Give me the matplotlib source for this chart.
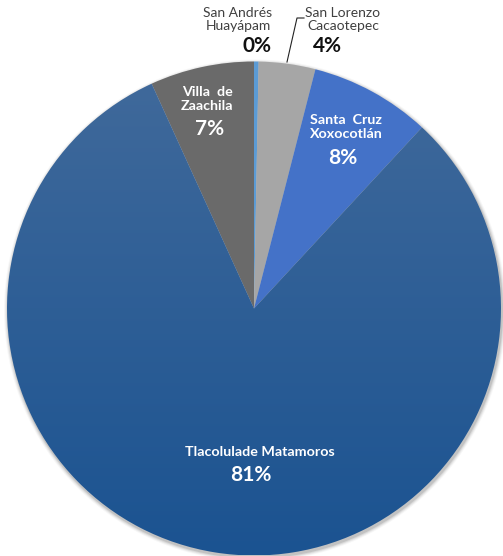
import numpy as np
import matplotlib.pyplot as plt
from matplotlib.colors import LinearSegmentedColormap

# municipios, porcentaje de participación
municipios = ['San Andrés\nHuayápam', 'San Lorenzo\nCacaotepec', 'Santa  Cruz\nXoxocotlán',
              'Tlacolulade Matamoros', 'Villa  de\nZaachila']
valores = [0.3, 3.7, 7.9, 81.3, 6.8]
colores = ['#5B9BD5', '#A6A6A6', '#4472C8', '#2A5F97', '#6A6A6A']

W, H = 503, 556
fig = plt.figure(figsize=(W / 100, H / 100), dpi=100)
ax = fig.add_axes([0, 0, 1, 1])

cx, cy, R = 254, 247.5, 247

# sombra suave alrededor del pastel
for k, a in zip([4, 3, 2, 1], [0.03, 0.05, 0.07, 0.10]):
    ax.add_patch(plt.Circle((cx + 1, cy - 2), R + k, color='black', alpha=a, lw=0, zorder=0))

wedges, _ = ax.pie(valores, colors=colores, startangle=90, counterclock=False,
                   center=(cx, cy), radius=R, frame=True,
                   wedgeprops=dict(linewidth=0))
ax.set_xlim(0, W)
ax.set_ylim(0, H)
ax.set_aspect('equal')
ax.axis('off')

# degradado vertical en la porción de Tlacolula
cmap = LinearSegmentedColormap.from_list('azul', ['#1B5391', '#416A9B'])
grad = np.linspace(0, 1, 256).reshape(-1, 1)
img = ax.imshow(grad, cmap=cmap, extent=(cx - R, cx + R, cy - R, cy + R),
                origin='lower', aspect='auto', zorder=1.5)
img.set_clip_path(wedges[3])
wedges[3].set_facecolor('none')
wedges[3].set_zorder(2)

fuente = 'Lato'
pct = [f'{round(v):.0f}%' for v in valores]

# etiquetas exteriores
ax.text(238, H - 19.5, municipios[0], ha='center', va='center', fontsize=10,
        color='#404040', family=fuente, linespacing=1.05)
ax.text(257, H - 46, pct[0], ha='center', va='center', fontsize=15,
        fontweight='bold', color='#111111', family=fuente)
ax.text(343, H - 19.5, municipios[1], ha='center', va='center', fontsize=10,
        color='#404040', family=fuente, linespacing=1.05)
ax.text(327, H - 46, pct[1], ha='center', va='center', fontsize=15,
        fontweight='bold', color='#111111', family=fuente)
ax.plot([287, 297, 304], [H - 62, H - 18, H - 18], color='#222222', lw=0.8, zorder=3)

# etiquetas interiores: (índice, x nombre, y nombre, x %, y %)
internas = [(2, 346, 127, 343, 158), (3, 260, 452, 251, 475), (4, 207, 99, 210, 129)]
for i, xn, yn, xp, yp in internas:
    ax.text(xn, H - yn, municipios[i], ha='center', va='center', fontsize=10.3,
            fontweight='bold', color='white', family=fuente, linespacing=1.25, zorder=4)
    ax.text(xp, H - yp, pct[i], ha='center', va='center',
            fontsize=15, fontweight='bold', color='white', family=fuente, zorder=4)

fig.savefig('out.png', dpi=100)
